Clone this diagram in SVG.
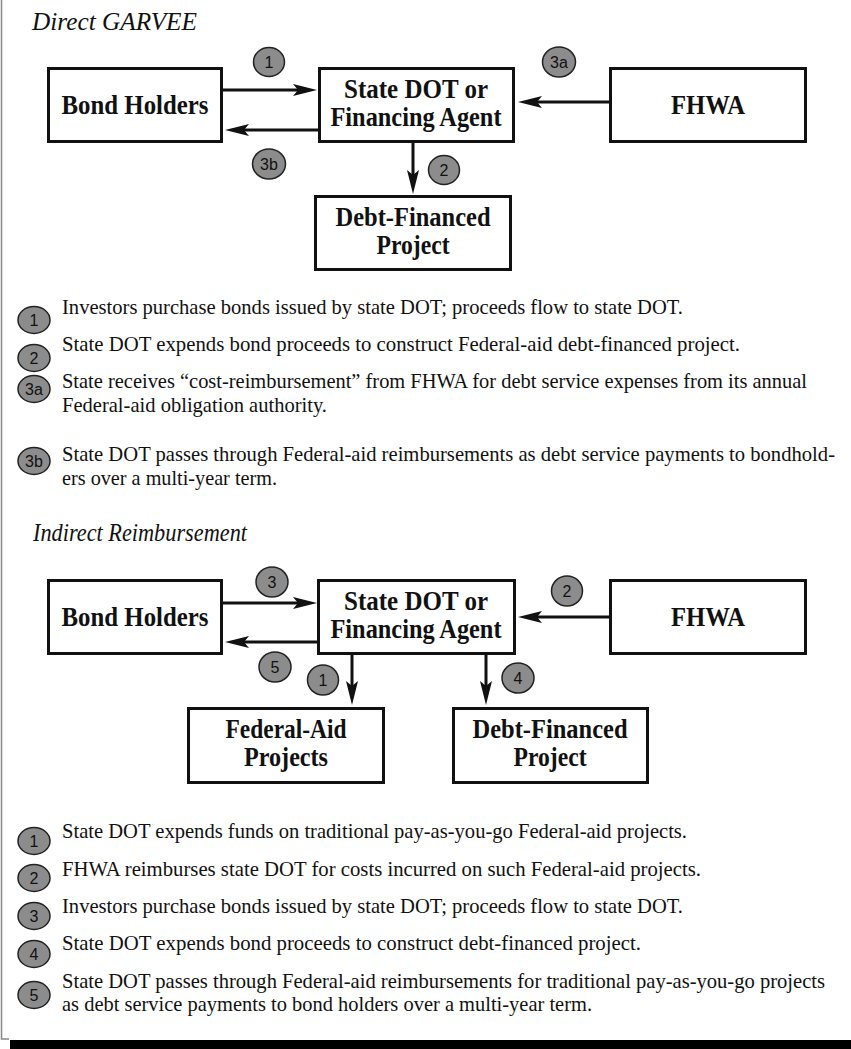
<svg xmlns="http://www.w3.org/2000/svg" width="851" height="1049" viewBox="0 0 851 1049">
<style>
.box{fill:#fff;stroke:#111;stroke-width:3}
.bl{font-family:"Liberation Serif","Times New Roman",serif;font-weight:bold;font-size:28px;fill:#111;text-anchor:middle}
.title{font-family:"Liberation Serif","Times New Roman",serif;font-style:italic;font-size:25px;fill:#111}
.leg{font-family:"Liberation Serif","Times New Roman",serif;font-size:21px;fill:#111}
.num{fill:#8c8c8c;stroke:#222;stroke-width:1.5}
.nt{font-family:"Liberation Sans",Arial,sans-serif;font-size:16px;fill:#111;text-anchor:middle}
.con{fill:none;stroke:#111;stroke-width:3;marker-end:url(#ah)}
</style>
<defs>
<marker id="ah" markerUnits="userSpaceOnUse" markerWidth="24" markerHeight="12" viewBox="0 0 24 12" refX="14" refY="6" orient="auto">
<path d="M0,0 L24,6 L0,12 L5,6 z" fill="#111"/>
</marker>
</defs>
<rect width="851" height="1049" fill="#fff"/>
<g id="frame">
<path d="M1.5,0 V1039 H9" fill="none" stroke="#888" stroke-width="1.5"/>
<rect x="10" y="1040" width="841" height="9" fill="#000"/>
</g>

<text class="title" x="32" y="30" textLength="165" lengthAdjust="spacingAndGlyphs">Direct GARVEE</text>

<g id="bh1"><rect class="box" x="48.5" y="68.5" width="173" height="73"/><text class="bl" x="135" y="114" textLength="147" lengthAdjust="spacingAndGlyphs">Bond Holders</text></g>
<g id="sd1"><rect class="box" x="319.5" y="68.5" width="194" height="73"/><text class="bl" x="416" y="98" textLength="144" lengthAdjust="spacingAndGlyphs">State DOT or</text><text class="bl" x="416" y="126" textLength="171" lengthAdjust="spacingAndGlyphs">Financing Agent</text></g>
<g id="fh1"><rect class="box" x="610.5" y="68.5" width="195" height="73"/><text class="bl" x="708" y="114" textLength="74" lengthAdjust="spacingAndGlyphs">FHWA</text></g>
<g id="dp1"><rect class="box" x="315.5" y="196.5" width="195" height="73"/><text class="bl" x="413" y="226" textLength="155" lengthAdjust="spacingAndGlyphs">Debt-Financed</text><text class="bl" x="413" y="254" textLength="73" lengthAdjust="spacingAndGlyphs">Project</text></g>

<g id="connectors1">
<path class="con" d="M223,90 H307"/>
<path class="con" d="M318,130 H235"/>
<path class="con" d="M609,102 H528"/>
<path class="con" d="M413,143 V184"/>
</g>
<g id="labels1">
<ellipse class="num" cx="269" cy="62" rx="15.5" ry="14.5"/><text class="nt" x="269" y="68">1</text>
<ellipse class="num" cx="559" cy="62" rx="16.5" ry="15"/><text class="nt" x="559" y="68">3a</text>
<ellipse class="num" cx="269" cy="164" rx="16.5" ry="15"/><text class="nt" x="269" y="170">3b</text>
<ellipse class="num" cx="444" cy="170" rx="15.5" ry="14.5"/><text class="nt" x="444" y="176">2</text>
</g>

<g id="legend1">
<ellipse class="num" cx="34" cy="320" rx="16" ry="13.5"/><text class="nt" x="34" y="326">1</text>
<text class="leg" x="62" y="314" textLength="621" lengthAdjust="spacingAndGlyphs">Investors purchase bonds issued by state DOT; proceeds flow to state DOT.</text>
<ellipse class="num" cx="34" cy="358" rx="16" ry="13.5"/><text class="nt" x="34" y="364">2</text>
<text class="leg" x="62" y="351" textLength="678" lengthAdjust="spacingAndGlyphs">State DOT expends bond proceeds to construct Federal-aid debt-financed project.</text>
<ellipse class="num" cx="34" cy="389" rx="16" ry="13.5"/><text class="nt" x="34" y="395">3a</text>
<text class="leg" x="62" y="388" textLength="745" lengthAdjust="spacingAndGlyphs">State receives “cost-reimbursement” from FHWA for debt service expenses from its annual</text>
<text class="leg" x="62" y="412" textLength="265" lengthAdjust="spacingAndGlyphs">Federal-aid obligation authority.</text>
<ellipse class="num" cx="34" cy="461" rx="16" ry="13.5"/><text class="nt" x="34" y="467">3b</text>
<text class="leg" x="62" y="461" textLength="773" lengthAdjust="spacingAndGlyphs">State DOT passes through Federal-aid reimbursements as debt service payments to bondhold-</text>
<text class="leg" x="62" y="485" textLength="215" lengthAdjust="spacingAndGlyphs">ers over a multi-year term.</text>
</g>

<text class="title" x="33" y="541" textLength="214" lengthAdjust="spacingAndGlyphs">Indirect Reimbursement</text>

<g id="bh2"><rect class="box" x="48.5" y="580.5" width="173" height="73"/><text class="bl" x="135" y="626" textLength="147" lengthAdjust="spacingAndGlyphs">Bond Holders</text></g>
<g id="sd2"><rect class="box" x="318.5" y="580.5" width="196" height="73"/><text class="bl" x="416" y="610" textLength="144" lengthAdjust="spacingAndGlyphs">State DOT or</text><text class="bl" x="416" y="638" textLength="171" lengthAdjust="spacingAndGlyphs">Financing Agent</text></g>
<g id="fh2"><rect class="box" x="610.5" y="580.5" width="195" height="73"/><text class="bl" x="708" y="626" textLength="74" lengthAdjust="spacingAndGlyphs">FHWA</text></g>
<g id="fa2"><rect class="box" x="188.5" y="708.5" width="195" height="74"/><text class="bl" x="286" y="738" textLength="121" lengthAdjust="spacingAndGlyphs">Federal-Aid</text><text class="bl" x="286" y="766" textLength="84" lengthAdjust="spacingAndGlyphs">Projects</text></g>
<g id="dp2"><rect class="box" x="453.5" y="708.5" width="194" height="74"/><text class="bl" x="550" y="738" textLength="155" lengthAdjust="spacingAndGlyphs">Debt-Financed</text><text class="bl" x="550" y="766" textLength="73" lengthAdjust="spacingAndGlyphs">Project</text></g>

<g id="connectors2">
<path class="con" d="M223,603 H307"/>
<path class="con" d="M317,642 H235"/>
<path class="con" d="M609,617 H528"/>
<path class="con" d="M352,655 V695"/>
<path class="con" d="M486,655 V695"/>
</g>
<g id="labels2">
<ellipse class="num" cx="272" cy="582" rx="16" ry="15"/><text class="nt" x="272" y="588">3</text>
<ellipse class="num" cx="275" cy="667" rx="16" ry="15"/><text class="nt" x="275" y="673">5</text>
<ellipse class="num" cx="323" cy="680" rx="15.5" ry="15"/><text class="nt" x="323" y="686">1</text>
<ellipse class="num" cx="567" cy="591" rx="15.5" ry="15"/><text class="nt" x="567" y="597">2</text>
<ellipse class="num" cx="518" cy="678" rx="16" ry="15"/><text class="nt" x="518" y="684">4</text>
</g>

<g id="legend2">
<ellipse class="num" cx="34" cy="841" rx="16" ry="13.5"/><text class="nt" x="34" y="847">1</text>
<text class="leg" x="62" y="838" textLength="625" lengthAdjust="spacingAndGlyphs">State DOT expends funds on traditional pay-as-you-go Federal-aid projects.</text>
<ellipse class="num" cx="34" cy="878" rx="16" ry="13.5"/><text class="nt" x="34" y="884">2</text>
<text class="leg" x="62" y="876" textLength="639" lengthAdjust="spacingAndGlyphs">FHWA reimburses state DOT for costs incurred on such Federal-aid projects.</text>
<ellipse class="num" cx="34" cy="916" rx="16" ry="13.5"/><text class="nt" x="34" y="922">3</text>
<text class="leg" x="62" y="913" textLength="621" lengthAdjust="spacingAndGlyphs">Investors purchase bonds issued by state DOT; proceeds flow to state DOT.</text>
<ellipse class="num" cx="34" cy="954" rx="16" ry="13.5"/><text class="nt" x="34" y="960">4</text>
<text class="leg" x="62" y="950" textLength="579" lengthAdjust="spacingAndGlyphs">State DOT expends bond proceeds to construct debt-financed project.</text>
<ellipse class="num" cx="34" cy="995" rx="16" ry="13.5"/><text class="nt" x="34" y="1001">5</text>
<text class="leg" x="62" y="988" textLength="763" lengthAdjust="spacingAndGlyphs">State DOT passes through Federal-aid reimbursements for traditional pay-as-you-go projects</text>
<text class="leg" x="62" y="1011" textLength="530" lengthAdjust="spacingAndGlyphs">as debt service payments to bond holders over a multi-year term.</text>
</g>
</svg>
